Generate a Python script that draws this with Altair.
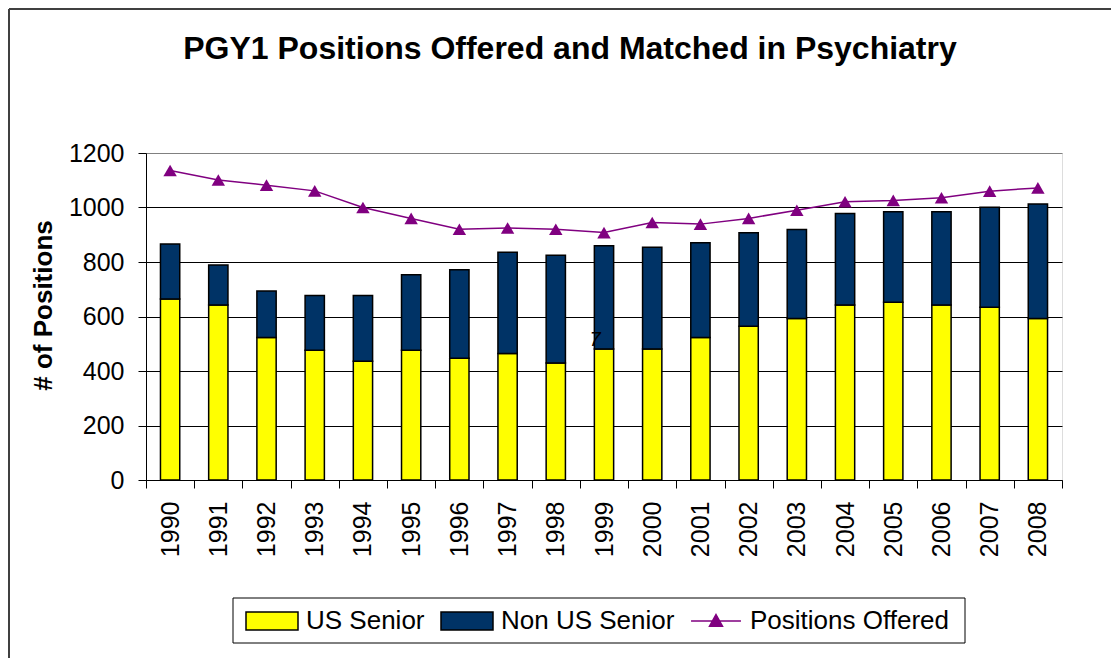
import altair as alt
import pandas as pd

# ---- data ----
years = [str(y) for y in range(1990, 2009)]
us_senior = [664, 642, 523, 476, 436, 476, 447, 464, 429, 481, 481, 523, 564, 593, 642, 652, 642, 634, 593]
non_us_senior = [202, 147, 171, 201, 241, 277, 325, 372, 396, 379, 373, 348, 343, 326, 336, 332, 342, 367, 420]
positions_offered = [1136, 1101, 1082, 1061, 1000, 960, 920, 925, 920, 908, 945, 939, 960, 990, 1021, 1026, 1036, 1060, 1072]
series_names = ["US Senior", "Non US Senior", "Positions Offered"]
y_ticks = [0, 200, 400, 600, 800, 1000, 1200]
stray_years = ["1999"]
stray_values = [512]
stray_texts = ["7"]
title_text = "PGY1 Positions Offered and Matched in Psychiatry"

FONT = "Liberation Sans"
W, H = 916, 327

bars_df = pd.DataFrame(
    [{"year": y, "series": "US Senior", "value": v, "ord": 0} for y, v in zip(years, us_senior)]
    + [{"year": y, "series": "Non US Senior", "value": v, "ord": 1} for y, v in zip(years, non_us_senior)]
)
line_df = pd.DataFrame({"year": years, "value": positions_offered, "series": "Positions Offered"})
stray_df = pd.DataFrame({"year": stray_years, "value": stray_values, "text": stray_texts})

rect_path = "M-1,-0.35H1V0.35H-1Z"
tri_path = "M-0.96,0H0.96M0,-0.25L0.25,0.2L-0.25,0.2Z"

legend = alt.Legend(
    title=None, orient="none", direction="horizontal", legendX=99, legendY=441,
    labelFont=FONT, labelFontSize=26, labelColor="black", labelLimit=400,
    symbolSize=2704, symbolStrokeWidth=1.5, symbolOpacity=1,
    labelOffset=7, columnPadding=13, padding=0,
)
fill_scale = alt.Scale(domain=series_names, range=["#FFFF00", "#003366", "#800080"])
stroke_scale = alt.Scale(domain=series_names, range=["black", "black", "#800080"])
shape_scale = alt.Scale(domain=series_names, range=[rect_path, rect_path, tri_path])

x_enc = alt.X(
    "year:N", title=None,
    scale=alt.Scale(paddingInner=0, paddingOuter=0),
    axis=alt.Axis(
        labelAngle=-90, labelFont=FONT, labelFontSize=25, labelColor="black",
        labelPadding=13, tickBand="extent", tickSize=8, tickColor="black",
        domainColor="black", grid=False,
    ),
)
y_scale = alt.Scale(domain=[0, 1200], nice=False)
y_axis = alt.Axis(
    values=y_ticks, format="d", labelFont=FONT, labelFontSize=25, labelColor="black", labelPadding=14,
    tickSize=8, tickColor="black", domainColor="black",
    grid=True, gridColor={"condition": {"test": "datum.value >= 1200", "value": "#808080"}, "value": "black"},
    title="# of Positions", titleFont=FONT, titleFontSize=26, titleFontWeight="bold",
    titleColor="black", titleAngle=-90, titleX=-103, titleY=152, titleAlign="center",
    titleBaseline="middle",
)

bars = alt.Chart(bars_df).mark_bar(width=alt.RelativeBandSize(0.4), strokeWidth=1.5).encode(
    x=x_enc,
    y=alt.Y("value:Q", stack="zero", scale=y_scale, axis=y_axis),
    fill=alt.Fill("series:N", scale=fill_scale, legend=legend),
    stroke=alt.Stroke("series:N", scale=stroke_scale, legend=legend),
    order=alt.Order("ord:Q", sort="ascending"),
)

line = alt.Chart(line_df).mark_line(strokeWidth=1.5).encode(
    x=alt.X("year:N"),
    y=alt.Y("value:Q", scale=y_scale),
    stroke=alt.Stroke("series:N", scale=stroke_scale, legend=legend),
)

points = alt.Chart(line_df).mark_point(shape="triangle-up", filled=True, size=180, color="#800080", opacity=1).encode(
    x=alt.X("year:N"),
    y=alt.Y("value:Q", scale=y_scale),
)

legend_keys = alt.Chart(line_df).mark_point(filled=True, opacity=0).encode(
    x=alt.X("year:N"),
    y=alt.Y("value:Q", scale=y_scale),
    shape=alt.Shape("series:N", scale=shape_scale, legend=legend),
    fill=alt.Fill("series:N", scale=fill_scale, legend=legend),
    stroke=alt.Stroke("series:N", scale=stroke_scale, legend=legend),
)

stray = alt.Chart(stray_df).mark_text(font=FONT, fontSize=20, color="black", dx=-9, fontStyle="italic").encode(
    x=alt.X("year:N"),
    y=alt.Y("value:Q", scale=y_scale),
    text="text:N",
)

deco = alt.Data(values=[{"k": 0}])
title_mark = alt.Chart(deco).mark_text(
    text=title_text, font=FONT, fontSize=32, fontWeight="bold", color="black",
    align="center", baseline="alphabetic",
).encode(x=alt.value(424), y=alt.value(-94))
legend_box = alt.Chart(deco).mark_rect(fill=None, stroke="black", strokeWidth=1).encode(
    x=alt.value(87), x2=alt.value(819), y=alt.value(445), y2=alt.value(490)
)
frame_top = alt.Chart(deco).mark_rule(color="#404040", strokeWidth=2).encode(
    x=alt.value(-137), x2=alt.value(W + 60), y=alt.value(-144)
)
frame_left = alt.Chart(deco).mark_rule(color="#404040", strokeWidth=2).encode(
    x=alt.value(-137), y=alt.value(-144), y2=alt.value(H + 200)
)

chart = alt.layer(bars, line, points, legend_keys, stray, title_mark, legend_box, frame_top, frame_left).properties(
    width=W, height=H,
    autosize=alt.AutoSizeParams(type="none"),
    padding={"left": 138, "top": 145, "right": 49, "bottom": 178},
).configure_view(
    fill="#C0C0C0", stroke="#808080", strokeWidth=2
).configure(background="white")

chart.save("out.html", embed_options={"renderer": "svg", "actions": False})
